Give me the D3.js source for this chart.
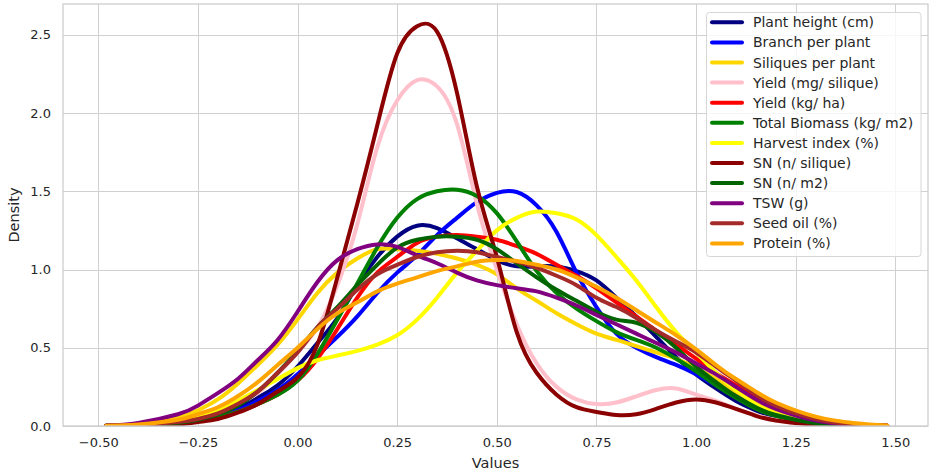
<!DOCTYPE html>
<html>
<head>
<meta charset="utf-8">
<script src="https://cdn.jsdelivr.net/npm/d3@7"></script>
<style>
  html, body { margin: 0; padding: 0; background: #fff; }
  svg { display: block; font-family: "DejaVu Sans", sans-serif; }
</style>
</head>
<body>
<svg id="chart" width="932" height="474"></svg>
<script>
// ---- data ----
const xGrid = [-0.48, -0.4, -0.3, -0.25, -0.2, -0.15, -0.1, -0.05,
  0, 0.05, 0.1, 0.15, 0.2, 0.25, 0.3, 0.35, 0.4, 0.45, 0.5, 0.55, 0.6, 0.65,
  0.7, 0.75, 0.8, 0.85, 0.9, 0.95, 1.0, 1.05, 1.1, 1.15, 1.2, 1.3, 1.4, 1.48];

const seriesNames = ["Plant height (cm)", "Branch per plant", "Siliques per plant",
  "Yield (mg/ silique)", "Yield (kg/ ha)", "Total Biomass (kg/ m2)", "Harvest index (%)",
  "SN (n/ silique)", "SN (n/ m2)", "TSW (g)", "Seed oil (%)", "Protein (%)"];

const plantHeight = [0.001, 0.004, 0.02, 0.04, 0.07, 0.12, 0.18, 0.26, 0.38, 0.53, 0.69, 0.9, 1.08, 1.21, 1.28, 1.265, 1.2, 1.13, 1.06, 1.02, 1.02, 1.02, 0.99, 0.93, 0.82, 0.7, 0.57, 0.44, 0.33, 0.24, 0.16, 0.1, 0.06, 0.015, 0.003, 0.001];
const branchPerPlant = [0.001, 0.004, 0.02, 0.035, 0.06, 0.1, 0.16, 0.23, 0.33, 0.45, 0.57, 0.7, 0.85, 0.98, 1.09, 1.22, 1.33, 1.43, 1.49, 1.495, 1.41, 1.24, 0.98, 0.76, 0.59, 0.5, 0.44, 0.39, 0.33, 0.26, 0.2, 0.14, 0.09, 0.03, 0.006, 0.001];
const siliquesPerPlant = [0.002, 0.012, 0.055, 0.1, 0.17, 0.27, 0.39, 0.52, 0.68, 0.85, 0.98, 1.07, 1.13, 1.13, 1.12, 1.1, 1.07, 1.03, 0.97, 0.88, 0.8, 0.72, 0.65, 0.59, 0.55, 0.51, 0.47, 0.43, 0.37, 0.3, 0.22, 0.15, 0.095, 0.03, 0.007, 0.001];
const yieldMg = [0.001, 0.004, 0.02, 0.04, 0.08, 0.14, 0.21, 0.33, 0.47, 0.63, 0.9, 1.29, 1.78, 2.08, 2.21, 2.17, 1.93, 1.42, 1.0, 0.65, 0.4, 0.25, 0.17, 0.14, 0.15, 0.19, 0.23, 0.24, 0.2, 0.16, 0.11, 0.07, 0.04, 0.01, 0.002, 0];
const yieldKg = [0.001, 0.003, 0.015, 0.03, 0.055, 0.09, 0.14, 0.2, 0.29, 0.43, 0.62, 0.82, 0.98, 1.08, 1.17, 1.21, 1.22, 1.21, 1.19, 1.15, 1.1, 1.03, 0.96, 0.88, 0.79, 0.7, 0.61, 0.52, 0.43, 0.34, 0.26, 0.18, 0.12, 0.04, 0.008, 0.001];
const totalBiomass = [0.001, 0.003, 0.015, 0.03, 0.055, 0.09, 0.14, 0.2, 0.29, 0.46, 0.68, 0.91, 1.14, 1.33, 1.45, 1.5, 1.51, 1.47, 1.36, 1.18, 0.99, 0.85, 0.75, 0.67, 0.6, 0.55, 0.5, 0.43, 0.35, 0.26, 0.18, 0.11, 0.065, 0.015, 0.002, 0];
const harvestIndex = [0.001, 0.006, 0.03, 0.06, 0.1, 0.16, 0.23, 0.3, 0.37, 0.42, 0.45, 0.48, 0.52, 0.58, 0.68, 0.82, 0.98, 1.12, 1.25, 1.33, 1.37, 1.36, 1.32, 1.22, 1.08, 0.93, 0.76, 0.6, 0.47, 0.34, 0.23, 0.14, 0.08, 0.02, 0.003, 0];
const snSilique = [0, 0.002, 0.01, 0.025, 0.045, 0.085, 0.14, 0.22, 0.31, 0.52, 0.95, 1.42, 1.92, 2.38, 2.555, 2.52, 2.13, 1.53, 1.08, 0.6, 0.34, 0.2, 0.12, 0.09, 0.07, 0.075, 0.11, 0.15, 0.17, 0.15, 0.11, 0.065, 0.035, 0.008, 0.001, 0];
const snM2 = [0.001, 0.004, 0.02, 0.04, 0.075, 0.13, 0.22, 0.34, 0.48, 0.63, 0.76, 0.9, 1.03, 1.14, 1.19, 1.21, 1.21, 1.19, 1.13, 1.04, 0.95, 0.87, 0.8, 0.73, 0.68, 0.66, 0.6, 0.5, 0.38, 0.28, 0.19, 0.12, 0.07, 0.018, 0.003, 0];
const tsw = [0.003, 0.02, 0.075, 0.13, 0.21, 0.3, 0.42, 0.55, 0.73, 0.92, 1.06, 1.13, 1.16, 1.145, 1.09, 1.04, 0.98, 0.93, 0.9, 0.88, 0.86, 0.82, 0.77, 0.71, 0.65, 0.59, 0.53, 0.47, 0.4, 0.33, 0.25, 0.17, 0.11, 0.035, 0.007, 0.001];
const seedOil = [0.001, 0.005, 0.025, 0.045, 0.08, 0.14, 0.22, 0.34, 0.47, 0.63, 0.75, 0.87, 0.97, 1.03, 1.08, 1.11, 1.12, 1.11, 1.08, 1.05, 1.01, 0.96, 0.9, 0.82, 0.76, 0.69, 0.61, 0.54, 0.47, 0.38, 0.29, 0.2, 0.13, 0.045, 0.01, 0.001];
const protein = [0.002, 0.01, 0.04, 0.075, 0.12, 0.19, 0.28, 0.39, 0.5, 0.62, 0.72, 0.79, 0.86, 0.91, 0.95, 0.99, 1.02, 1.05, 1.06, 1.055, 1.03, 1.0, 0.95, 0.89, 0.82, 0.74, 0.66, 0.58, 0.49, 0.39, 0.3, 0.22, 0.15, 0.06, 0.018, 0.003];

const seriesValues = [plantHeight, branchPerPlant, siliquesPerPlant, yieldMg, yieldKg,
  totalBiomass, harvestIndex, snSilique, snM2, tsw, seedOil, protein];
const seriesColors = ["#000080", "#0000ff", "#ffd700", "#ffc0cb", "#ff0000", "#008000",
  "#ffff00", "#8b0000", "#006400", "#800080", "#a52a2a", "#ffa500"];

const xTicks = [-0.5, -0.25, 0, 0.25, 0.5, 0.75, 1.0, 1.25, 1.5];
const yTicks = [0, 0.5, 1.0, 1.5, 2.0, 2.5];
const xLabel = "Values";
const yLabel = "Density";

// ---- layout ----
const svg = d3.select("#chart");
const L = 63, R = 928, T = 4, B = 426;
const x = d3.scaleLinear().domain([-0.5885, 1.582]).range([L, R]);
const y = d3.scaleLinear().domain([0, 2.6965]).range([B, T]);
const gridColor = "#d0d0d0";
const textColor = "#262626";

// grid
const g = svg.append("g");
g.selectAll("line.gx").data(xTicks).enter().append("line")
  .attr("x1", d => Math.round(x(d)) + 0.5).attr("x2", d => Math.round(x(d)) + 0.5)
  .attr("y1", T).attr("y2", B)
  .attr("stroke", gridColor).attr("stroke-width", 1);
g.selectAll("line.gy").data(yTicks).enter().append("line")
  .attr("y1", d => Math.round(y(d)) + 0.5).attr("y2", d => Math.round(y(d)) + 0.5)
  .attr("x1", L).attr("x2", R)
  .attr("stroke", gridColor).attr("stroke-width", 1);

// axes via d3 axis generators (no tick marks)
const fmtX = d => d3.format(".2f")(d).replace("-", "\u2212");
const xAxis = d3.axisBottom(x).tickValues(xTicks).tickFormat(fmtX).tickSize(0).tickPadding(12);
const yAxis = d3.axisLeft(y).tickValues(yTicks).tickFormat(d3.format(".1f")).tickSize(0).tickPadding(12);
const gx = svg.append("g").attr("transform", `translate(0,${B})`).call(xAxis);
const gy = svg.append("g").attr("transform", `translate(${L},0)`).call(yAxis);
[gx, gy].forEach(a => {
  a.select(".domain").remove();
  a.selectAll("text").attr("fill", textColor).style("font-size", "13px")
    .style("font-family", "'DejaVu Sans', sans-serif");
});

// clip
svg.append("clipPath").attr("id", "clip").append("rect")
  .attr("x", L).attr("y", T).attr("width", R - L).attr("height", B - T);

// curves
const line = d3.line()
  .x((d, i) => x(xGrid[i]))
  .y(d => y(Math.max(0, d)))
  .curve(d3.curveNatural);
const cg = svg.append("g").attr("clip-path", "url(#clip)");
seriesValues.forEach((vals, k) => {
  cg.append("path").datum(vals)
    .attr("d", line)
    .attr("fill", "none")
    .attr("stroke", seriesColors[k])
    .attr("stroke-width", 4)
    .attr("stroke-linejoin", "round")
    .attr("stroke-linecap", "round");
});

// frame
svg.append("rect").attr("x", L).attr("y", T).attr("width", R - L).attr("height", B - T)
  .attr("fill", "none").attr("stroke", "#cccccc").attr("stroke-width", 1.25);

// axis labels
svg.append("text").attr("x", (L + R) / 2).attr("y", 468)
  .attr("text-anchor", "middle").attr("fill", textColor)
  .style("font-size", "14.5px").text(xLabel);
svg.append("text").attr("transform", `translate(19,${(T + B) / 2}) rotate(-90)`)
  .attr("text-anchor", "middle").attr("fill", textColor)
  .style("font-size", "14.5px").text(yLabel);

// legend
const lg = svg.append("g");
lg.append("rect").attr("x", 706.5).attr("y", 12.5).attr("width", 214.5).attr("height", 244)
  .attr("rx", 3).attr("fill", "#ffffff").attr("fill-opacity", 0.8)
  .attr("stroke", "#d6d6d6").attr("stroke-width", 1);
seriesNames.forEach((name, i) => {
  const cy = 22.3 + i * 20.1;
  lg.append("line").attr("x1", 712).attr("x2", 742).attr("y1", cy).attr("y2", cy)
    .attr("stroke", seriesColors[i]).attr("stroke-width", 4).attr("stroke-linecap", "round");
  lg.append("text").attr("x", 753).attr("y", cy).attr("dy", "0.36em")
    .attr("fill", textColor).style("font-size", "14px").text(name);
});
</script>
</body>
</html>
